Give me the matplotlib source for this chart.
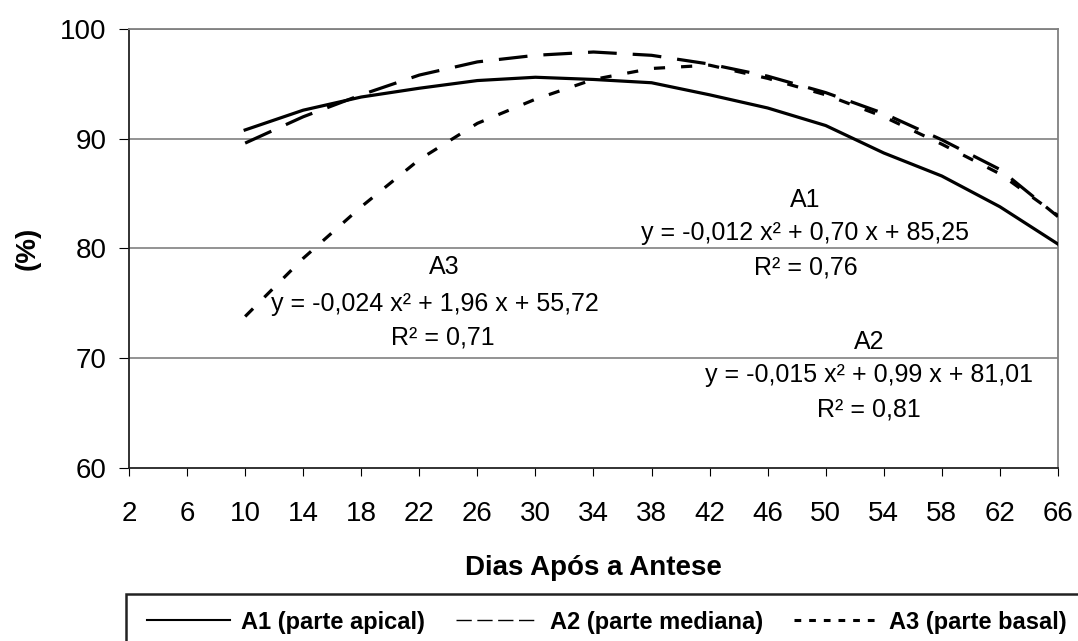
import matplotlib
matplotlib.use("Agg")
from matplotlib import pyplot as plt
from matplotlib.lines import Line2D
from matplotlib.patches import Rectangle

plt.rcParams['font.family'] = ['Liberation Sans', 'DejaVu Sans']

# days after anthesis and moisture (%)
dias = [10, 14, 18, 22, 26, 30, 34, 38, 42, 46, 50, 54, 58, 62, 66]
a1 = [90.8, 92.6, 93.8, 94.6, 95.3, 95.6, 95.4, 95.1, 94.0, 92.8, 91.2, 88.7, 86.6, 83.8, 80.4]
a2 = [89.6, 92.0, 94.0, 95.8, 97.0, 97.6, 97.9, 97.6, 96.8, 95.7, 94.2, 92.3, 89.9, 87.2, 82.9]
a3 = [73.8, 79.1, 83.8, 88.1, 91.4, 93.6, 95.4, 96.4, 96.7, 95.5, 94.0, 92.0, 89.5, 86.8, 83.0]

xticks = list(range(2, 67, 4))
yticks = [60, 70, 80, 90, 100]

W, H = 1078, 641
fig = plt.figure(figsize=(W / 100, H / 100), dpi=100)
ax = fig.add_axes([0.1197, 0.270, 0.8617, 0.6848])

ax.set_xlim(2, 66)
ax.set_ylim(60, 100)
ax.set_xticks(xticks)
ax.set_yticks(yticks)
ax.tick_params(axis='both', labelsize=20, color='black', direction='out')
ax.tick_params(axis='x', length=6, pad=18)
ax.tick_params(axis='y', length=7, pad=9)
ax.spines['left'].set_color('#222222')
ax.spines['bottom'].set_color('#222222')
ax.spines['right'].set_color('gray')
ax.spines['top'].set_color('gray')
for s in ax.spines.values():
    s.set_linewidth(1.3)

for v in yticks[1:]:
    ax.axhline(v, color='gray', linewidth=1.2, zorder=1)

ax.plot(dias, a1, color='black', linewidth=2.3, zorder=3)
ax.plot(dias, a2, color='black', linewidth=2.3, dashes=(9, 5), zorder=3)
ax.plot(dias, a3, color='black', linewidth=2.3, dashes=(3.5, 5), zorder=3)

ax.set_xlabel('Dias Após a Antese', fontsize=20, fontweight='bold', labelpad=20)
ax.set_ylabel('(%)', fontsize=20, fontweight='bold', labelpad=14)

# equations
fs = 18
ax.text(48.6, 84.45, 'A1', ha='center', va='center', fontsize=fs)
ax.text(48.6, 81.45, 'y = -0,012 x² + 0,70 x + 85,25', ha='center', va='center', fontsize=fs)
ax.text(48.6, 78.3, 'R² = 0,76', ha='center', va='center', fontsize=fs)

ax.text(23.7, 78.3, 'A3', ha='center', va='center', fontsize=fs)
ax.text(23.1, 74.9, 'y = -0,024 x² + 1,96 x + 55,72', ha='center', va='center', fontsize=fs)
ax.text(23.6, 71.9, 'R² = 0,71', ha='center', va='center', fontsize=fs)

ax.text(53.0, 71.5, 'A2', ha='center', va='center', fontsize=fs)
ax.text(53.0, 68.5, 'y = -0,015 x² + 0,99 x + 81,01', ha='center', va='center', fontsize=fs)
ax.text(53.0, 65.3, 'R² = 0,81', ha='center', va='center', fontsize=fs)

# legend box runs past the right and bottom edges, as in the reference
fig.patches.append(Rectangle((126 / W, -10 / H), 1000 / W, 57 / H, transform=fig.transFigure,
                             facecolor='white', edgecolor='#222222', linewidth=1.8, zorder=0))

handles = [
    Line2D([], [], color='black', linewidth=1.5),
    Line2D([], [], color='black', linewidth=1.0, dashes=(11, 4)),
    Line2D([], [], color='black', linewidth=2.2, dashes=(2.2, 2.6)),
]
labels = ['A1 (parte apical)', 'A2 (parte mediana)', 'A3 (parte basal)']
leg = fig.legend(handles, labels, loc='center left', bbox_to_anchor=(147 / W, 1 - 622 / H),
                 ncol=3, frameon=False, handlelength=3.5,
                 handletextpad=0.5, columnspacing=1.3, borderaxespad=0, borderpad=0.0,
                 prop={'weight': 'bold', 'size': 17})

fig.savefig('out.png', dpi=100)
